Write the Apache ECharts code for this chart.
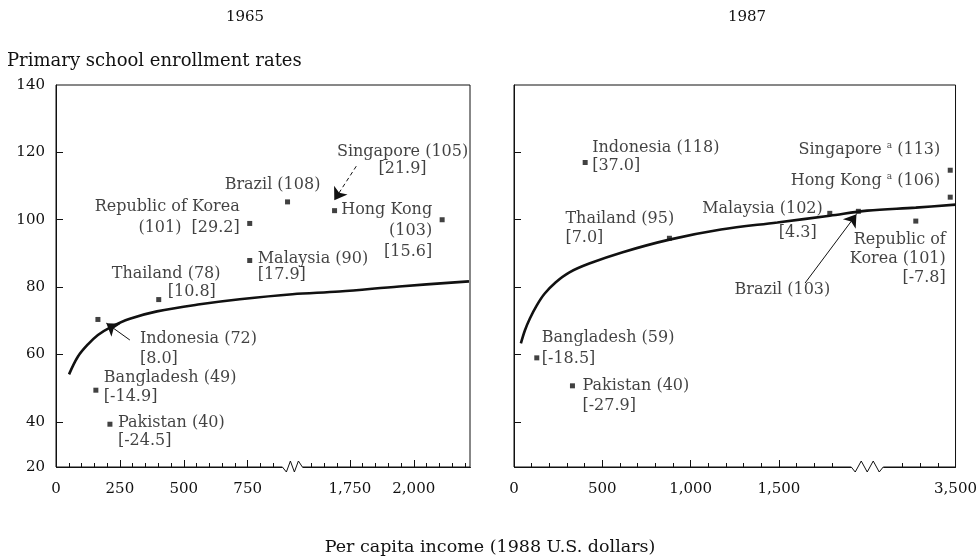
<!DOCTYPE html>
<html><head><meta charset="utf-8">
<script src="https://cdn.jsdelivr.net/npm/echarts@6/dist/echarts.min.js"></script>
<style>html,body{margin:0;padding:0;background:#fff}#c{width:980px;height:560px}</style>
</head><body><div id="c"></div>
<script>
// ---------- DATA ----------
// 1965 panel
const labels65 = [
  'Indonesia (72)\n[8.0]',
  'Bangladesh (49)\n[-14.9]',
  'Pakistan (40)\n[-24.5]',
  'Thailand (78)\n{i56|[10.8]}',
  'Republic of Korea\n(101)  [29.2]',
  'Malaysia (90)\n[17.9]',
  'Brazil (108)',
  'Singapore (105)\n[21.9]',
  'Hong Kong\n(103)\n[15.6]'
];
const income65 = [164, 156, 211, 402, 758, 758, 906, 1690, 2111];
const enroll65 = [70.4, 49.4, 39.3, 76.3, 98.9, 87.9, 105.3, 102.7, 100.0];
const curve65X = [51, 86, 125, 164, 211, 289, 395, 563, 719, 925, 1709, 1943, 2216];
const curve65Y = [54.1, 59.4, 63.0, 65.8, 68.0, 70.6, 72.8, 74.9, 76.4, 77.9, 78.7, 80.2, 81.7];
// arrows: [fromX, fromY, toX, toY, dashed]
const arrows65 = [[289, 64.3, 197, 69.3, false], [1775, 115.9, 1689, 105.8, true]];

// 1987 panel
const labels87 = [
  'Indonesia (118)\n[37.0]',
  'Thailand (95)\n[7.0]',
  'Malaysia (102)\n{r6|[4.3]}',
  'Brazil (103)',
  'Republic of\nKorea (101)\n[-7.8]',
  'Singapore {sup|a} (113)',
  'Hong Kong {sup|a} (106)',
  'Bangladesh (59)\n[-18.5]',
  'Pakistan (40)\n[-27.9]'
];
const income87 = [403, 880, 1788, 1950, 3275, 3470, 3470, 129, 331];
const enroll87 = [117.0, 94.5, 101.9, 102.5, 99.6, 114.7, 106.7, 59.0, 50.7];
const curve87X = [39, 62, 90, 129, 174, 235, 314, 426, 611, 880, 1172, 1491, 1788, 2000, 3275, 3500];
const curve87Y = [63.3, 67.2, 70.7, 74.6, 78.1, 81.4, 84.4, 87.0, 90.3, 94.1, 97.1, 99.2, 101.2, 102.7, 103.6, 104.5];
const arrows87 = [[1648, 81.2, 1939, 101.6, false]];

// axes
const yTickValues = [26.6, 40, 60, 80, 100, 120, 140];
const yTickLabels = ['20', '40', '60', '80', '100', '120', '140'];
const xLabels65 = [0, 250, 500, 750, 1750, 2000];
const xLabels87 = [0, 500, 1000, 1500, 3500];
const break65 = {start: 925, end: 1525};
const break87 = {start: 2000, end: 3000};

// ---------- STYLE / LAYOUT ----------
const FONT = 'DejaVu Serif';
const FS = 15;      // tick labels / years
const LFS = 16;     // point labels
const SYM = 5;
const INK = '#111';
const layout65 = [
  {dx: 42, dy: 9, align: 'left', lh: 20},
  {dx: 8, dy: -22, align: 'left', lh: 19},
  {dx: 8, dy: -10, align: 'left', lh: 18},
  {dx: -47, dy: -35, align: 'left', lh: 18},
  {dx: -10, dy: -27, align: 'right', lh: 21},
  {dx: 8, dy: -10, align: 'left', lh: 16},
  {dx: -15, dy: -26, align: 'center', lh: 18},
  {dx: 68, dy: -67, align: 'center', lh: 17},
  {dx: -10, dy: -20, align: 'right', lh: 21}
];
const layout87 = [
  {dx: 7, dy: -24, align: 'left', lh: 18},
  {dx: -104, dy: -29, align: 'left', lh: 19},
  {dx: -7, dy: -17, align: 'right', lh: 24},
  {dx: -76, dy: 70, align: 'center', lh: 18},
  {dx: 30, dy: 9, align: 'right', lh: 19},
  {dx: -10, dy: -29, align: 'right', lh: 18},
  {dx: -10, dy: -25, align: 'right', lh: 18},
  {dx: 5, dy: -31, align: 'left', lh: 21},
  {dx: 10, dy: -10, align: 'left', lh: 20}
];

const fmtNum = v => Number(v).toLocaleString('en-US');

function pointData(xs, ys, texts, lay) {
  return xs.map((x, i) => ({
    value: [x, ys[i]],
    label: {
      show: true,
      formatter: texts[i],
      position: [lay[i].dx + SYM / 2, lay[i].dy + SYM / 2],
      align: lay[i].align,
      verticalAlign: 'top',
      lineHeight: lay[i].lh
    }
  }));
}
function arrowData(arr) {
  return arr.map(a => [
    {coord: [a[0], a[1]], lineStyle: {type: a[4] ? [4, 3] : 'solid'}},
    {coord: [a[2], a[3]]}
  ]);
}
const richStyles = {
  i56: {padding: [0, 0, 0, 56], fontFamily: FONT, fontSize: LFS, color: INK},
  r6: {padding: [0, 6, 0, 0], fontFamily: FONT, fontSize: LFS, color: INK},
  sup: {fontSize: 9, fontFamily: FONT, color: INK, verticalAlign: 'top', padding: [0, 0, 6, 0]}
};
function scatterSeries(xi, yi, data, arrows) {
  return {
    type: 'scatter', xAxisIndex: xi, yAxisIndex: yi, symbol: 'rect', symbolSize: SYM, z: 5,
    itemStyle: {color: INK},
    label: {fontFamily: FONT, fontSize: LFS, color: INK, rich: richStyles},
    data: data,
    markLine: {
      silent: true, symbol: ['none', 'arrow'], symbolSize: 12,
      label: {show: false}, lineStyle: {color: INK, width: 1},
      data: arrowData(arrows)
    }
  };
}
function curveSeries(xi, yi, xs, ys) {
  return {
    type: 'line', xAxisIndex: xi, yAxisIndex: yi, showSymbol: false, smooth: 0.35,
    lineStyle: {color: INK, width: 2.6}, z: 3,
    data: xs.map((x, i) => [x, ys[i]])
  };
}
function minorTicks(step, max, majors, brk, pad) {
  const out = [];
  for (let v = step; v < max; v += step) {
    if (majors.indexOf(v) >= 0) continue;
    if (v > brk.start - pad && v < brk.end + pad) continue;
    out.push(v);
  }
  return out;
}
function xMain(gi, max, brk, labelVals) {
  return {
    type: 'value', gridIndex: gi, min: 0, max: max,
    breaks: [{start: brk.start, end: brk.end, gap: 0}],
    breakArea: {show: false, itemStyle: {opacity: 0, borderWidth: 0}},
    axisLine: {show: true, onZero: false, lineStyle: {color: INK, width: 1}},
    axisTick: {show: true, inside: true, length: 7, customValues: labelVals.filter(v => v > 0 && v < max), lineStyle: {color: INK}},
    axisLabel: {show: true, customValues: labelVals, formatter: v => fmtNum(v), margin: 15,
      color: INK, fontFamily: FONT, fontSize: FS},
    splitLine: {show: false}
  };
}
function xMinor(gi, max, brk, ticks) {
  return {
    type: 'value', gridIndex: gi, min: 0, max: max, position: 'bottom',
    breaks: [{start: brk.start, end: brk.end, gap: 0}],
    breakArea: {show: false, itemStyle: {opacity: 0, borderWidth: 0}},
    axisLine: {show: false},
    axisTick: {show: true, inside: true, length: 4, customValues: ticks, lineStyle: {color: INK}},
    axisLabel: {show: false},
    splitLine: {show: false}
  };
}
function yAxis(gi, showLabels) {
  return {
    type: 'value', gridIndex: gi, min: yTickValues[0], max: yTickValues[yTickValues.length - 1],
    axisLine: {show: true, lineStyle: {color: INK, width: 1}},
    axisTick: {show: true, inside: true, length: 7, customValues: yTickValues.slice(1, -1), lineStyle: {color: INK}},
    axisLabel: {show: showLabels, customValues: yTickValues, margin: 11, color: INK, fontFamily: FONT, fontSize: FS,
      formatter: v => yTickLabels[yTickValues.indexOf(v)] || ''},
    splitLine: {show: false}
  };
}

const chart = echarts.init(document.getElementById('c'));
const staticText = (t, x, y, align, size) => ({
  type: 'text', x: x, y: y, silent: true,
  style: {text: t, fill: INK, font: size + 'px "' + FONT + '"', textAlign: align, textVerticalAlign: 'middle'}
});
const texts = [
  staticText('1965', 245, 17, 'center', FS),
  staticText('1987', 747, 17, 'center', FS),
  staticText('Primary school enrollment rates', 7, 61, 'left', 18),
  staticText('Per capita income (1988 U.S. dollars)', 490, 547, 'center', 17.5)
];
chart.setOption({
  animation: false,
  backgroundColor: '#fff',
  grid: [
    {left: 56, right: 510, top: 85, bottom: 93, show: true, borderColor: INK, borderWidth: 1},
    {left: 514, right: 20, top: 85, bottom: 93, show: true, borderColor: INK, borderWidth: 1}
  ],
  xAxis: [
    xMain(0, 2220, break65, xLabels65),
    xMinor(0, 2220, break65, minorTicks(50, 2220, xLabels65, break65, 60)),
    xMain(1, 3500, break87, xLabels87),
    xMinor(1, 3500, break87, minorTicks(100, 3500, xLabels87, break87, 150))
  ],
  yAxis: [yAxis(0, true), yAxis(1, false)],
  series: [
    curveSeries(0, 0, curve65X, curve65Y),
    scatterSeries(0, 0, pointData(income65, enroll65, labels65, layout65), arrows65),
    curveSeries(2, 1, curve87X, curve87Y),
    scatterSeries(2, 1, pointData(income87, enroll87, labels87, layout87), arrows87)
  ],
  graphic: texts
});

// zigzag break marks on the x axes
function zigzag(seriesIndex, xv, n, half) {
  const p = chart.convertToPixel({seriesIndex: seriesIndex}, [xv, yTickValues[0]]);
  const x = p[0], y = p[1];
  const pts = [[x - half - 4, y]];
  const step = (2 * half) / n;
  for (let k = 0; k <= n; k++) pts.push([x - half + k * step, y + (k % 2 === 0 ? 5 : -6)]);
  pts.push([x + half + 4, y]);
  return [
    {type: 'rect', z: 100, silent: true, shape: {x: x - half - 4, y: y - 2, width: 2 * half + 8, height: 4}, style: {fill: '#fff'}},
    {type: 'polyline', z: 101, silent: true, shape: {points: pts}, style: {stroke: INK, fill: null, lineWidth: 1}}
  ];
}
chart.setOption({graphic: texts.concat(zigzag(1, break65.start, 3, 6), zigzag(3, break87.start, 4, 12))},
  {replaceMerge: ['graphic']});
</script>
</body></html>
